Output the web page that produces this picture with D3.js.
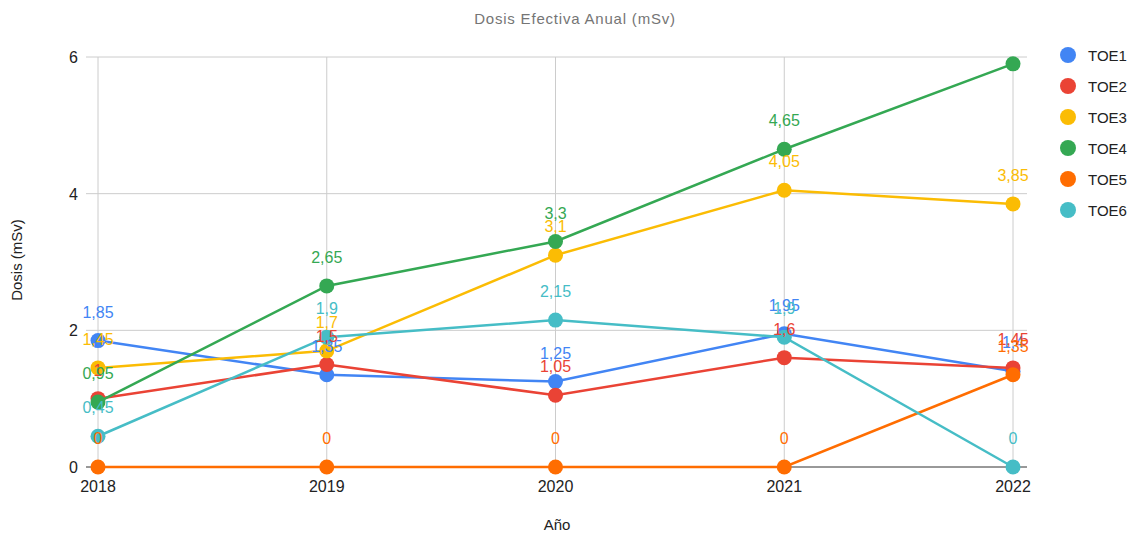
<!DOCTYPE html>
<html>
<head>
<meta charset="utf-8">
<script src="https://cdn.jsdelivr.net/npm/d3@7"></script>
<style>
  body { margin: 0; background: #fff; }
  text { font-family: Arial, "Liberation Sans", sans-serif; }
</style>
</head>
<body>
<script>
var years = ["2018", "2019", "2020", "2021", "2022"];
var seriesNames = ["TOE1", "TOE2", "TOE3", "TOE4", "TOE5", "TOE6"];
var toe1 = [1.85, 1.35, 1.25, 1.95, 1.4];
var toe2 = [1, 1.5, 1.05, 1.6, 1.45];
var toe3 = [1.45, 1.7, 3.1, 4.05, 3.85];
var toe4 = [0.95, 2.65, 3.3, 4.65, 5.9];
var toe5 = [0, 0, 0, 0, 1.35];
var toe6 = [0.45, 1.9, 2.15, 1.9, 0];
var colors = ["#4285F4", "#EA4335", "#FBBC04", "#34A853", "#FF6D01", "#46BDC6"];
var yTicks = [0, 2, 4, 6];

var main = function() {
  var width = 1131, height = 534;
  var values = [toe1, toe2, toe3, toe4, toe5, toe6];

  var svg = d3.select("body").append("svg")
    .attr("width", width)
    .attr("height", height);

  var x = d3.scalePoint().domain(years).range([98, 1013]);
  var y = d3.scaleLinear().domain([0, 6]).range([467, 57]);

  // title
  svg.append("text")
    .attr("x", 575).attr("y", 24)
    .attr("text-anchor", "middle")
    .style("font-size", "15px")
    .style("letter-spacing", "0.8px")
    .style("fill", "#757575")
    .text("Dosis Efectiva Anual (mSv)");

  // gridlines
  svg.append("g").selectAll("line.h")
    .data(yTicks.filter(function(d) { return d > 0; }))
    .enter().append("line")
    .attr("x1", 86).attr("x2", 1027)
    .attr("y1", function(d) { return y(d); })
    .attr("y2", function(d) { return y(d); })
    .attr("stroke", "#cccccc").attr("stroke-width", 1);

  svg.append("g").selectAll("line.v")
    .data(years)
    .enter().append("line")
    .attr("x1", function(d) { return x(d); })
    .attr("x2", function(d) { return x(d); })
    .attr("y1", y(6)).attr("y2", y(0))
    .attr("stroke", "#cccccc").attr("stroke-width", 1);

  svg.append("line")
    .attr("x1", 86).attr("x2", 1027)
    .attr("y1", y(0)).attr("y2", y(0))
    .attr("stroke", "#333333").attr("stroke-width", 1);

  // y tick labels
  svg.append("g").selectAll("text")
    .data(yTicks)
    .enter().append("text")
    .attr("x", 78)
    .attr("y", function(d) { return y(d) + 6; })
    .attr("text-anchor", "end")
    .style("font-size", "16px")
    .style("fill", "#222")
    .text(function(d) { return d; });

  // x tick labels
  svg.append("g").selectAll("text")
    .data(years)
    .enter().append("text")
    .attr("x", function(d) { return x(d); })
    .attr("y", 492)
    .attr("text-anchor", "middle")
    .style("font-size", "16px")
    .style("fill", "#222")
    .text(function(d) { return d; });

  // axis titles
  svg.append("text")
    .attr("x", 557).attr("y", 530)
    .attr("text-anchor", "middle")
    .style("font-size", "15px")
    .style("fill", "#222")
    .text("Año");

  svg.append("text")
    .attr("transform", "translate(22,260) rotate(-90)")
    .attr("text-anchor", "middle")
    .style("font-size", "15px")
    .style("fill", "#222")
    .text("Dosis (mSv)");

  var line = d3.line()
    .x(function(d, i) { return x(years[i]); })
    .y(function(d) { return y(d); });

  values.forEach(function(vals, s) {
    var g = svg.append("g");
    g.append("path")
      .datum(vals)
      .attr("d", line)
      .attr("fill", "none")
      .attr("stroke", colors[s])
      .attr("stroke-width", 2.5);
    g.selectAll("circle")
      .data(vals)
      .enter().append("circle")
      .attr("cx", function(d, i) { return x(years[i]); })
      .attr("cy", function(d) { return y(d); })
      .attr("r", 7.5)
      .attr("fill", colors[s]);
  });

  // data labels (labels that would go above the plot area are clipped, as in the original)
  values.forEach(function(vals, s) {
    svg.append("g").selectAll("text")
      .data(vals.map(function(v, i) { return {v: v, i: i}; })
        .filter(function(d) { return y(d.v) - 23 > y(6) + 10; }))
      .enter().append("text")
      .attr("x", function(d) { return x(years[d.i]); })
      .attr("y", function(d) { return y(d.v) - 23; })
      .attr("text-anchor", "middle")
      .style("font-size", "16px")
      .style("fill", colors[s])
      .text(function(d) { return String(d.v).replace(".", ","); });
  });

  // legend
  var leg = svg.append("g").selectAll("g")
    .data(seriesNames)
    .enter().append("g")
    .attr("transform", function(d, i) { return "translate(1068," + (55 + i * 31) + ")"; });
  leg.append("circle").attr("r", 8).attr("fill", function(d, i) { return colors[i]; });
  leg.append("text")
    .attr("x", 20).attr("y", 5.5)
    .style("font-size", "15px")
    .style("fill", "#222")
    .text(function(d) { return d; });
}

main();
</script>
</body>
</html>
